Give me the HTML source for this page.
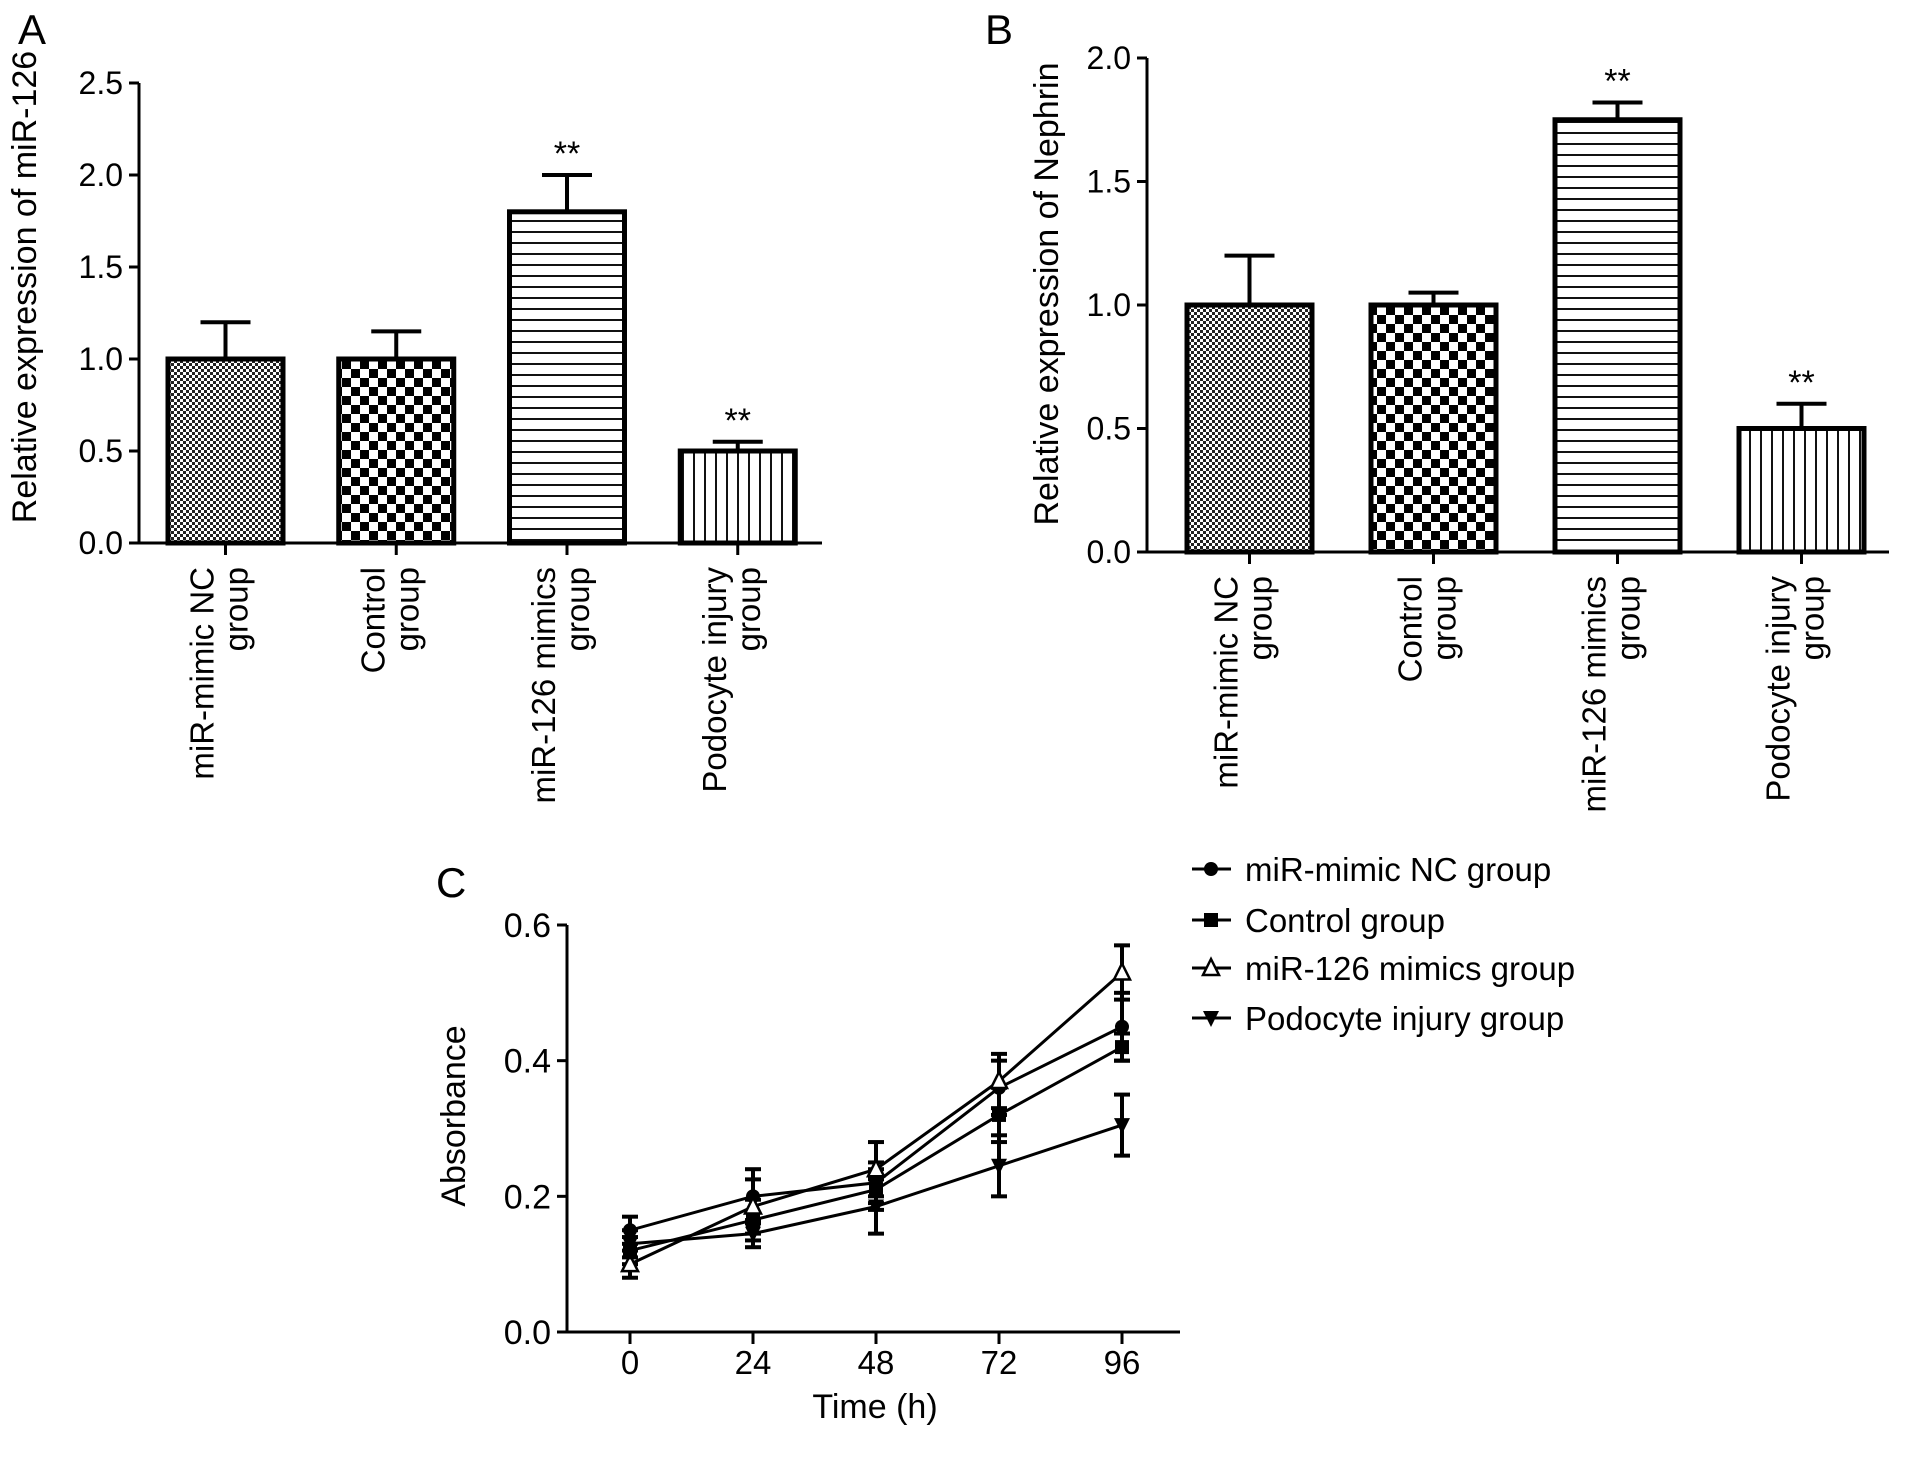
<!DOCTYPE html>
<html><head><meta charset="utf-8"><style>
html,body{margin:0;padding:0;background:#fff;}
svg{display:block;font-family:"Liberation Sans",Arial,sans-serif;}
</style></head><body>
<svg id="fig" width="1913" height="1464" viewBox="0 0 1913 1464">
<defs>
<pattern id="pFine" width="6" height="6" patternUnits="userSpaceOnUse"><rect width="6" height="6" fill="#fff"/><rect width="3" height="3" fill="#222"/><rect x="3" y="3" width="3" height="3" fill="#222"/></pattern>
<pattern id="pCheck" width="18" height="18" patternUnits="userSpaceOnUse"><rect width="18" height="18" fill="#fff"/><rect width="9" height="9" fill="#000"/><rect x="9" y="9" width="9" height="9" fill="#000"/></pattern>
<pattern id="pH" width="10" height="11" patternUnits="userSpaceOnUse"><rect width="10" height="11" fill="#fff"/><rect y="0" width="10" height="2" fill="#111"/></pattern>
<pattern id="pV" width="11" height="10" patternUnits="userSpaceOnUse"><rect width="11" height="10" fill="#fff"/><rect x="0" width="2" height="10" fill="#111"/></pattern>
</defs>
<g id="gA"></g>
<g id="gB"></g>
<g id="gC"></g>
</svg>
<script>
const categories = ["miR-mimic NC|group","Control|group","miR-126 mimics|group","Podocyte injury|group"];
const valuesA = [1.0, 1.0, 1.8, 0.5];
const errorsA = [0.2, 0.15, 0.2, 0.05];
const starsA = ["", "", "**", "**"];
const ticksA = ["0.0","0.5","1.0","1.5","2.0","2.5"];
const valuesB = [1.0, 1.0, 1.75, 0.5];
const errorsB = [0.2, 0.05, 0.07, 0.1];
const starsB = ["", "", "**", "**"];
const ticksB = ["0.0","0.5","1.0","1.5","2.0"];
const timesC = [0, 24, 48, 72, 96];
const seriesNames = ["miR-mimic NC group","Control group","miR-126 mimics group","Podocyte injury group"];
const seriesNC = [0.15, 0.20, 0.22, 0.36, 0.45];
const seriesCtrl = [0.12, 0.165, 0.21, 0.32, 0.42];
const seriesMimic = [0.10, 0.185, 0.24, 0.37, 0.53];
const seriesPodo = [0.13, 0.145, 0.185, 0.245, 0.305];
const errNC = [0.02, 0.04, 0.03, 0.04, 0.05];
const errCtrl = [0.02, 0.03, 0.03, 0.04, 0.02];
const errMimic = [0.02, 0.04, 0.04, 0.04, 0.04];
const errPodo = [0.02, 0.02, 0.04, 0.045, 0.045];
const ticksC = ["0.0","0.2","0.4","0.6"];

const NS="http://www.w3.org/2000/svg";
function mk(parent,tag,attrs,text){const e=document.createElementNS(NS,tag);for(const k in attrs)e.setAttribute(k,attrs[k]);if(text!==undefined)e.textContent=text;parent.appendChild(e);return e;}
const fills=["url(#pFine)","url(#pCheck)","url(#pH)","url(#pV)"];

function barPanel(g,o){
  const y=v=>o.y0-(v/o.max)*(o.y0-o.yTop);
  let l=mk(g,"line",{x1:o.ax,y1:o.yTop,x2:o.ax,y2:o.y0+1,stroke:"#000","stroke-width":3});
  
  
  l=mk(g,"line",{x1:o.ax-1,y1:o.y0,x2:o.axEnd,y2:o.y0,stroke:"#000","stroke-width":3});
  
  
  o.ticks.forEach((t,i)=>{const v=parseFloat(t);const yy=y(v);
    mk(g,"line",{x1:o.ax-10,y1:yy,x2:o.ax,y2:yy,stroke:"#000","stroke-width":3});
    const tx=mk(g,"text",{x:o.ax-16,y:yy+11,"font-size":32,"text-anchor":"end"},t);
    
    
  });
  const tt=mk(g,"text",{x:0,y:0,"font-size":34,"text-anchor":"middle",transform:`translate(${o.titleX},${o.titleY}) rotate(-90)`},o.title);
  
  
  const pl=mk(g,"text",{x:o.labelX,y:o.labelY,"font-size":42},o.letter);
  
  
  const step=(o.axEnd-o.ax-o.pad)/categories.length;
  categories.forEach((c,i)=>{
    const x0=o.ax+o.gap+i*step, cx=x0+o.bw/2, v=o.vals[i], e=o.errs[i];
    const top=y(v), et=y(v+e);
    const ln=mk(g,"line",{x1:cx,y1:top,x2:cx,y2:et,stroke:"#000","stroke-width":4});
    
    
    mk(g,"line",{x1:cx-25,y1:et,x2:cx+25,y2:et,stroke:"#000","stroke-width":4});
    const r=mk(g,"rect",{x:x0,y:top,width:o.bw,height:o.y0-top,fill:fills[i],stroke:"#000","stroke-width":5});
    
    
    if(o.stars[i]){const s=mk(g,"text",{x:cx,y:et-10,"font-size":34,"text-anchor":"middle"},o.stars[i]);
      
      }
    mk(g,"line",{x1:cx,y1:o.y0,x2:cx,y2:o.y0+12,stroke:"#000","stroke-width":3});
    const parts=c.split("|");
    parts.forEach((p,k)=>{const t=mk(g,"text",{x:0,y:0,"font-size":33,"text-anchor":"end",transform:`translate(${cx-12+k*34},${o.y0+24}) rotate(-90)`},p);
      
      });
  });
}
barPanel(document.getElementById("gA"),{ax:139,axEnd:822,y0:543,yTop:83,max:2.5,ticks:ticksA,vals:valuesA,errs:errorsA,stars:starsA,bw:115,gap:29,pad:0,title:"Relative expression of miR-126",titleX:36,titleY:287,letter:"A",labelX:18,labelY:44});
barPanel(document.getElementById("gB"),{ax:1147,axEnd:1889,y0:552,yTop:58,max:2.0,ticks:ticksB,vals:valuesB,errs:errorsB,stars:starsB,bw:125,gap:40,pad:6,title:"Relative expression of Nephrin",titleX:1058,titleY:294,letter:"B",labelX:985,labelY:44});

// Panel C
(function(){
  const g=document.getElementById("gC");
  const ax=567, axEnd=1180, y0=1332, yTop=925;
  const xs=t=>630+(t/96)*(1122-630);
  const ys=v=>y0-(v/0.6)*(y0-yTop);
  let l=mk(g,"line",{x1:ax,y1:yTop,x2:ax,y2:y0+1,stroke:"#000","stroke-width":3});
  
  
  l=mk(g,"line",{x1:ax-1,y1:y0,x2:axEnd,y2:y0,stroke:"#000","stroke-width":3});
  
  
  ticksC.forEach(t=>{const yy=ys(parseFloat(t));
    mk(g,"line",{x1:ax-10,y1:yy,x2:ax,y2:yy,stroke:"#000","stroke-width":3});
    const tx=mk(g,"text",{x:ax-16,y:yy+12,"font-size":34,"text-anchor":"end"},t);
    
    });
  timesC.forEach(t=>{const xx=xs(t);
    mk(g,"line",{x1:xx,y1:y0,x2:xx,y2:y0+12,stroke:"#000","stroke-width":3});
    const tx=mk(g,"text",{x:xx,y:y0+42,"font-size":33,"text-anchor":"middle"},String(t));
    
    });
  let t=mk(g,"text",{x:875,y:1418,"font-size":34,"text-anchor":"middle"},"Time (h)");
  
  
  t=mk(g,"text",{x:0,y:0,"font-size":34,"text-anchor":"middle",transform:`translate(465,1116) rotate(-90)`},"Absorbance");
  
  
  t=mk(g,"text",{x:436,y:897,"font-size":42},"C");
  
  
  const data=[seriesNC,seriesCtrl,seriesMimic,seriesPodo], errs=[errNC,errCtrl,errMimic,errPodo];
  function marker(gg,k,x,y){
    if(k===0) return mk(gg,"circle",{cx:x,cy:y,r:7,fill:"#000"});
    if(k===1) return mk(gg,"rect",{x:x-7,y:y-7,width:14,height:14,fill:"#000"});
    if(k===2) return mk(gg,"polygon",{points:`${x},${y-9} ${x-8},${y+7} ${x+8},${y+7}`,fill:"#fff",stroke:"#000","stroke-width":2.5});
    return mk(gg,"polygon",{points:`${x},${y+9} ${x-8},${y-7} ${x+8},${y-7}`,fill:"#000"});
  }
  data.forEach((s,k)=>{
    const sg=mk(g,"g",{});
    
    
    const pts=s.map((v,i)=>xs(timesC[i])+","+ys(v)).join(" ");
    mk(sg,"polyline",{points:pts,fill:"none",stroke:"#000","stroke-width":3});
    s.forEach((v,i)=>{const x=xs(timesC[i]),e=errs[k][i];
      const a=ys(v+e),b=ys(v-e);
      mk(sg,"line",{x1:x,y1:a,x2:x,y2:b,stroke:"#000","stroke-width":4});
      mk(sg,"line",{x1:x-8,y1:a,x2:x+8,y2:a,stroke:"#000","stroke-width":4});
      mk(sg,"line",{x1:x-8,y1:b,x2:x+8,y2:b,stroke:"#000","stroke-width":4});
      const m=marker(sg,k,x,ys(v));
      
      
    });
  });
  const ly=[869,920,968,1018];
  seriesNames.forEach((n,k)=>{
    const lg=mk(g,"g",{});
    
    
    mk(lg,"line",{x1:1192,y1:ly[k],x2:1231,y2:ly[k],stroke:"#000","stroke-width":3});
    marker(lg,k,1211,ly[k]);
    mk(lg,"text",{x:1245,y:ly[k]+12,"font-size":33},n);
  });
})();
</script>
</body></html>
